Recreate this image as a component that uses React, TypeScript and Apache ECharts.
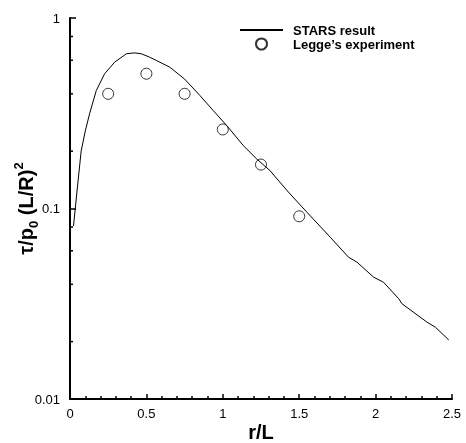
import React, { useEffect, useRef } from "react";
import * as echarts from "echarts";

const starsR = [0.023, 0.048, 0.073, 0.1, 0.128, 0.172, 0.226, 0.292, 0.369, 0.42, 0.467, 0.521, 0.566, 0.653, 0.75, 0.85, 0.937, 1.025, 1.134, 1.222, 1.309, 1.429, 1.55, 1.703, 1.823, 1.878, 1.987, 2.052, 2.151, 2.173, 2.337, 2.392, 2.479];
const starsTau = [0.081, 0.128, 0.2, 0.255, 0.314, 0.416, 0.509, 0.586, 0.649, 0.656, 0.649, 0.623, 0.598, 0.552, 0.478, 0.392, 0.327, 0.273, 0.214, 0.182, 0.158, 0.122, 0.0957, 0.0707, 0.0555, 0.0523, 0.0436, 0.041, 0.0336, 0.0316, 0.0253, 0.0238, 0.0204];
const expR = [0.25, 0.5, 0.75, 1.0, 1.25, 1.5];
const expTau = [0.4, 0.51, 0.4, 0.26, 0.17, 0.091];
const xTicks = { min: 0, max: 2.5, interval: 0.5 };
const yTicks = { min: 0.01, max: 1 };
const yMinorFactors = [2, 4, 6, 8];
const yMajor = [0.01, 0.1, 1];

export default function App() {
  const ref = useRef<HTMLDivElement>(null);
  useEffect(() => {
    if (!ref.current) return;
    const chart = echarts.init(ref.current, undefined, { renderer: "svg" });
    const font = "'Liberation Sans', Arial, Helvetica, sans-serif";
    chart.setOption({
      animation: false,
      textStyle: { fontFamily: font },
      grid: { left: 70, right: 14, top: 18, bottom: 44, outerBoundsMode: "none", containLabel: false },
      legend: {
        orient: "vertical",
        left: 239,
        top: 23,
        padding: 0,
        itemWidth: 43,
        itemHeight: 11,
        itemGap: 0,
        textStyle: { fontFamily: font, fontWeight: "bold", fontSize: 13, color: "#000", lineHeight: 14, padding: [0, 0, 0, 5] },
        data: [
          { name: "STARS result", itemStyle: { opacity: 0 } },
          { name: "Legge’s experiment" },
        ],
      },
      xAxis: {
        type: "value",
        min: xTicks.min,
        max: xTicks.max,
        interval: xTicks.interval,
        name: "r/L",
        nameLocation: "middle",
        nameGap: 25,
        nameMoveOverlap: false,
        nameTextStyle: { fontFamily: font, fontWeight: "bold", fontSize: 20, lineHeight: 16, color: "#000" },
        axisLine: { show: true, onZero: false, lineStyle: { color: "#000", width: 2 } },
        axisTick: { show: true, inside: true, length: 5, lineStyle: { color: "#000", width: 1.5 } },
        minorTick: { show: true, splitNumber: 5, length: 3, lineStyle: { color: "#000", width: 1.5 } },
        axisLabel: { color: "#000", fontSize: 13, margin: 8, fontFamily: font, formatter: (v: number) => String(v) },
        splitLine: { show: false },
      },
      yAxis: {
        type: "log",
        logBase: 10,
        min: yTicks.min,
        max: yTicks.max,
        name: "{a|τ/p}{sub|0}{a| (L/R)}{sup|2}",
        nameLocation: "middle",
        nameGap: 30,
        nameMoveOverlap: false,
        nameTextStyle: {
          fontFamily: font,
          fontWeight: "bold",
          fontSize: 20,
          color: "#000",
          rich: {
            a: { fontFamily: font, fontWeight: "bold", fontSize: 20, color: "#000", lineHeight: 28 },
            sub: { fontFamily: font, fontWeight: "bold", fontSize: 13, color: "#000", lineHeight: 14, verticalAlign: "bottom" },
            sup: { fontFamily: font, fontWeight: "bold", fontSize: 13, color: "#000", lineHeight: 14, verticalAlign: "top" },
          },
        },
        axisLine: { show: true, onZero: false, lineStyle: { color: "#000", width: 2 } },
        axisTick: { show: true, inside: true, length: 6, lineStyle: { color: "#000", width: 1.5 } },
        minorTick: { show: false },
        axisLabel: { color: "#000", fontSize: 13, margin: 10, fontFamily: font, formatter: (v: number) => String(+v.toPrecision(3)) },
        splitLine: { show: false },
      },
      series: [
        {
          name: "STARS result",
          type: "line",
          symbol: "none",
          lineStyle: { color: "#000", width: 1 },
          itemStyle: { color: "#000" },
          data: starsR.map((r, i) => [r, starsTau[i]]),
        },
        {
          name: "Legge’s experiment",
          type: "scatter",
          symbol: "circle",
          symbolSize: 11,
          itemStyle: { color: "#fff", borderColor: "#000", borderWidth: 1 },
          data: expR.map((r, i) => [r, expTau[i]]),
        },
      ],
    });

    const x0 = chart.convertToPixel({ xAxisIndex: 0 }, xTicks.min) as number;
    const lines: any[] = [];
    for (let d = 0; d < yMajor.length - 1; d++) {
      for (const f of yMinorFactors) {
        const v = yMajor[d] * f;
        const y = chart.convertToPixel({ yAxisIndex: 0 }, v) as number;
        lines.push({
          type: "line",
          shape: { x1: x0, y1: y, x2: x0 + 3, y2: y },
          style: { stroke: "#000", lineWidth: 1.5 },
        });
      }
    }
    chart.setOption({ graphic: lines });

    return () => chart.dispose();
  }, []);
  return <div ref={ref} style={{ position: "fixed", left: 0, top: 0, width: 466, height: 443 }} />;
}
